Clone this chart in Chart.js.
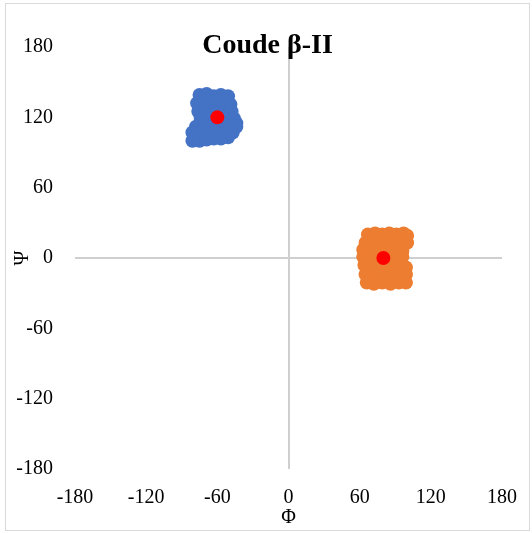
<!DOCTYPE html>
<html lang="fr">
<head>
  <meta charset="UTF-8">
  <title>Coude β-II</title>
  <script src="https://cdn.jsdelivr.net/npm/chart.js"></script>
  <style>
    body { margin: 0; background: #fff; }
    .box { position: absolute; left: 5px; top: 3px; width: 525px; height: 528px; box-sizing: border-box; border: 1px solid #d9d9d9; }
    canvas { display: block; }
  </style>
</head>
<body>

<div class="box"><canvas id="chart" width="523" height="526"></canvas></div>

<script>
const titleText = 'Coude β-II';
const xTitle = 'Φ';
const yTitle = 'Ψ';
const axisTicks = [-180, -120, -60, 0, 60, 120, 180];

// blue cluster (phi, psi)
const bluePhi = [-75,-69,-63,-57,-51, -77,-70,-63,-56,-49, -76,-69,-62,-55,-48, -74,-67,-54,-46,-44, -78,-71,-64,-57,-50,-44, -81,-75,-68,-61,-54,-47, -81,-75,-69,-63,-57,-51];
const bluePsi = [139,140,138,139,138, 132,132,131,132,131, 125,126,125,124,125, 119,119,119,119,115, 112,113,112,113,113,112, 107,106,106,107,106,107, 100,100,101,102,102,103];

// orange cluster (phi, psi)
const orangePhi = [67,73,79,85,91,97,100, 65,71,78,85,92,100, 63,69,76,83,90,96, 63,69,75,86,91,96, 64,70,77,84,91,99, 65,71,78,85,92,99, 66,72,79,86,93,99, 80,80];
const orangePsi = [20,21,20,21,20,21,19, 13,14,13,14,13,13, 7,6,7,6,7,6, 1,0,-1,1,0,1, -6,-7,-6,-7,-6,-8, -14,-13,-14,-13,-14,-14, -21,-22,-21,-22,-21,-21, 3,-3];

// mean positions
const meanPhi = [-60, 80];
const meanPsi = [120, 0];

const toPoints = (xs, ys) => xs.map((x, i) => ({x, y: ys[i]}));

const serif = 'Liberation Serif, Times New Roman, serif';
const zeroLine = c => c.tick && c.tick.value === 0 ? '#cfcfcf' : 'rgba(0,0,0,0)';

// centre the title over the whole canvas, not just the padded area
const fullWidthTitle = {
  id: 'fullWidthTitle',
  afterLayout(chart) {
    const t = chart.titleBlock;
    if (t) { t.left = 0; t.right = chart.width; t.width = chart.width; }
  }
};

new Chart(document.getElementById('chart'), {
  type: 'scatter',
  data: {
    datasets: [
      { data: toPoints(meanPhi, meanPsi), backgroundColor: '#ff0000', borderWidth: 0, pointRadius: 7 },
      { data: toPoints(bluePhi, bluePsi), backgroundColor: '#4472c4', borderWidth: 0, pointRadius: 7 },
      { data: toPoints(orangePhi, orangePsi), backgroundColor: '#ed7d31', borderWidth: 0, pointRadius: 7 }
    ]
  },
  plugins: [fullWidthTitle],
  options: {
    responsive: false,
    animation: false,
    layout: { padding: { left: 0, top: 0, right: 27, bottom: 0 } },
    plugins: {
      legend: { display: false },
      tooltip: { enabled: false },
      title: {
        display: true, text: titleText, color: '#000',
        font: { family: serif, size: 28, weight: 'bold' },
        padding: { top: 25, bottom: -15.6 }
      }
    },
    scales: {
      x: {
        min: -180, max: 180,
        afterBuildTicks: s => { s.ticks = axisTicks.map(v => ({value: v})); },
        afterFit: s => { s.height = 61; s.paddingLeft = 0; s.paddingRight = 0; },
        border: { display: false },
        grid: { color: zeroLine, lineWidth: 2, drawTicks: false },
        ticks: { color: '#000', padding: 17, font: { family: serif, size: 20 } },
        title: { display: true, text: xTitle, color: '#000', padding: { top: 0, bottom: 0 }, font: { family: serif, size: 20 } }
      },
      y: {
        min: -180, max: 180,
        afterBuildTicks: s => { s.ticks = axisTicks.map(v => ({value: v})); },
        afterFit: s => { s.width = 69; s.paddingTop = 0; s.paddingBottom = 0; },
        border: { display: false },
        grid: { color: zeroLine, lineWidth: 2, drawTicks: false },
        ticks: { color: '#000', padding: 22, font: { family: serif, size: 20 } },
        title: { display: true, text: yTitle, color: '#000', padding: { top: 5, bottom: 0 }, font: { family: serif, size: 20 } }
      }
    }
  }
});
</script>

</body>
</html>
